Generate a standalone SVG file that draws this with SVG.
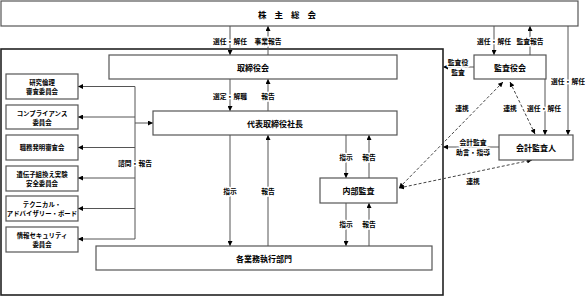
<svg xmlns="http://www.w3.org/2000/svg" width="585" height="297" viewBox="0 0 585 297">
<defs>
<marker id="ah" viewBox="0 0 10 10" refX="10" refY="5" markerWidth="5" markerHeight="5" orient="auto-start-reverse" markerUnits="userSpaceOnUse">
<path d="M0,0 L10,5 L0,10 Z" fill="#000"/>
</marker>
</defs>
<style>
.box{fill:#fff;stroke:#555;stroke-width:1.2}
.frame{fill:none;stroke:#222;stroke-width:1.6}
.ln{fill:none;stroke:#555;stroke-width:1}
.dash{fill:none;stroke:#444;stroke-width:1;stroke-dasharray:3,2}
text{font-family:"Noto Sans CJK JP","Noto Sans",sans-serif;font-weight:bold;fill:#000;text-anchor:middle;dominant-baseline:central}
.bt{font-size:8px}
.ct{font-size:6.4px}
.lb{font-size:6.8px;stroke:#fff;stroke-width:3;paint-order:stroke;stroke-linejoin:round}
</style>
<rect width="585" height="297" fill="#fff"/>
<rect class="frame" x="1" y="49" width="442" height="246"/>

<g id="connectors">
<path class="ln" d="M230,26 V55" marker-end="url(#ah)"/>
<path class="ln" d="M268,55 V26" marker-end="url(#ah)"/>
<path class="ln" d="M230,79 V111" marker-end="url(#ah)"/>
<path class="ln" d="M268,111 V79" marker-end="url(#ah)"/>
<path class="ln" d="M230,135 V246" marker-end="url(#ah)"/>
<path class="ln" d="M268,246 V135" marker-end="url(#ah)"/>
<path class="ln" d="M346,135 V178" marker-end="url(#ah)"/>
<path class="ln" d="M369,178 V135" marker-end="url(#ah)"/>
<path class="ln" d="M346,203 V246" marker-end="url(#ah)"/>
<path class="ln" d="M369,246 V203" marker-end="url(#ah)"/>
<path class="ln" d="M494,26 V55" marker-end="url(#ah)"/>
<path class="ln" d="M530,55 V26" marker-end="url(#ah)"/>
<path class="ln" d="M568,26 V135" marker-end="url(#ah)"/>
<path class="ln" d="M545,79 V135" marker-end="url(#ah)"/>
<path class="ln" d="M474,67 H443" marker-end="url(#ah)"/>
<path class="ln" d="M499,147 H443" marker-end="url(#ah)"/>
<path class="ln" d="M135,86.5 V239"/>
<path class="ln" d="M135,86.5 H78" marker-end="url(#ah)"/>
<path class="ln" d="M135,117 H78" marker-end="url(#ah)"/>
<path class="ln" d="M135,147.5 H78" marker-end="url(#ah)"/>
<path class="ln" d="M135,178 H78" marker-end="url(#ah)"/>
<path class="ln" d="M135,208.5 H78" marker-end="url(#ah)"/>
<path class="ln" d="M135,239 H78" marker-end="url(#ah)"/>
<path class="ln" d="M135,123 H153" marker-end="url(#ah)"/>
<path class="dash" d="M503,82 L399,188" marker-start="url(#ah)" marker-end="url(#ah)"/>
<path class="dash" d="M510,82 L535,134" marker-start="url(#ah)" marker-end="url(#ah)"/>
<path class="dash" d="M399,188 L532,160" marker-start="url(#ah)" marker-end="url(#ah)"/>
<text class="lb" x="230" y="41">選任・解任</text>
<text class="lb" x="268" y="41">事業報告</text>
<text class="lb" x="230" y="96">選定・解職</text>
<text class="lb" x="268" y="96">報告</text>
<text class="lb" x="230" y="191">指示</text>
<text class="lb" x="268" y="191">報告</text>
<text class="lb" x="346" y="157">指示</text>
<text class="lb" x="369" y="157">報告</text>
<text class="lb" x="346" y="224">指示</text>
<text class="lb" x="369" y="224">報告</text>
<text class="lb" x="135" y="163">諮問・報告</text>
<text class="lb" x="494" y="41">選任・解任</text>
<text class="lb" x="530" y="41">監査報告</text>
<text class="lb" x="568" y="81">選任・解任</text>
<text class="lb" x="458" y="62">監査役</text>
<text class="lb" x="458" y="72">監査</text>
<text class="lb" x="462" y="108">連携</text>
<text class="lb" x="510" y="108">連携</text>
<text class="lb" x="544" y="108">選任・解任</text>
<text class="lb" x="473" y="142">会計監査</text>
<text class="lb" x="473" y="152">助言・指導</text>
<text class="lb" x="473" y="181">連携</text>
</g>

<g id="shareholders">
<rect class="box" x="1" y="1" width="577" height="25"/>
<text class="bt" x="291" y="13.5" style="font-size:8.5px;letter-spacing:8px">株主総会</text>
</g>
<g id="board">
<rect class="box" x="109" y="55" width="288" height="24"/>
<text class="bt" x="253" y="67">取締役会</text>
</g>
<g id="president">
<rect class="box" x="153" y="111" width="244" height="24"/>
<text class="bt" x="275" y="123">代表取締役社長</text>
</g>
<g id="internal-audit">
<rect class="box" x="320" y="178" width="77" height="25"/>
<text class="bt" x="358.5" y="190.5">内部監査</text>
</g>
<g id="business-units">
<rect class="box" x="96" y="246" width="336" height="24"/>
<text class="bt" x="264" y="258">各業務執行部門</text>
</g>
<g id="audit-board">
<rect class="box" x="474" y="55" width="72" height="24"/>
<text class="bt" x="510" y="67">監査役会</text>
</g>
<g id="accounting-auditor">
<rect class="box" x="499" y="135" width="74" height="25"/>
<text class="bt" x="536" y="147.5">会計監査人</text>
</g>
<g id="c1">
<rect class="box" x="6" y="74" width="72" height="25"/>
<text class="ct" x="42" y="82">研究倫理</text>
<text class="ct" x="42" y="91">審査委員会</text>
</g>
<g id="c2">
<rect class="box" x="6" y="105" width="72" height="24"/>
<text class="ct" x="42" y="113">コンプライアンス</text>
<text class="ct" x="42" y="122">委員会</text>
</g>
<g id="c3">
<rect class="box" x="6" y="135" width="72" height="25"/>
<text class="ct" x="42" y="147.5">職務発明審査会</text>
</g>
<g id="c4">
<rect class="box" x="6" y="166" width="72" height="25"/>
<text class="ct" x="42" y="174">遺伝子組換え実験</text>
<text class="ct" x="42" y="183">安全委員会</text>
</g>
<g id="c5">
<rect class="box" x="6" y="196" width="72" height="25"/>
<text class="ct" x="42" y="204">テクニカル・</text>
<text class="ct" x="42" y="213">アドバイザリー・ボード</text>
</g>
<g id="c6">
<rect class="box" x="6" y="227" width="72" height="25"/>
<text class="ct" x="42" y="235">情報セキュリティ</text>
<text class="ct" x="42" y="244">委員会</text>
</g>
</svg>
